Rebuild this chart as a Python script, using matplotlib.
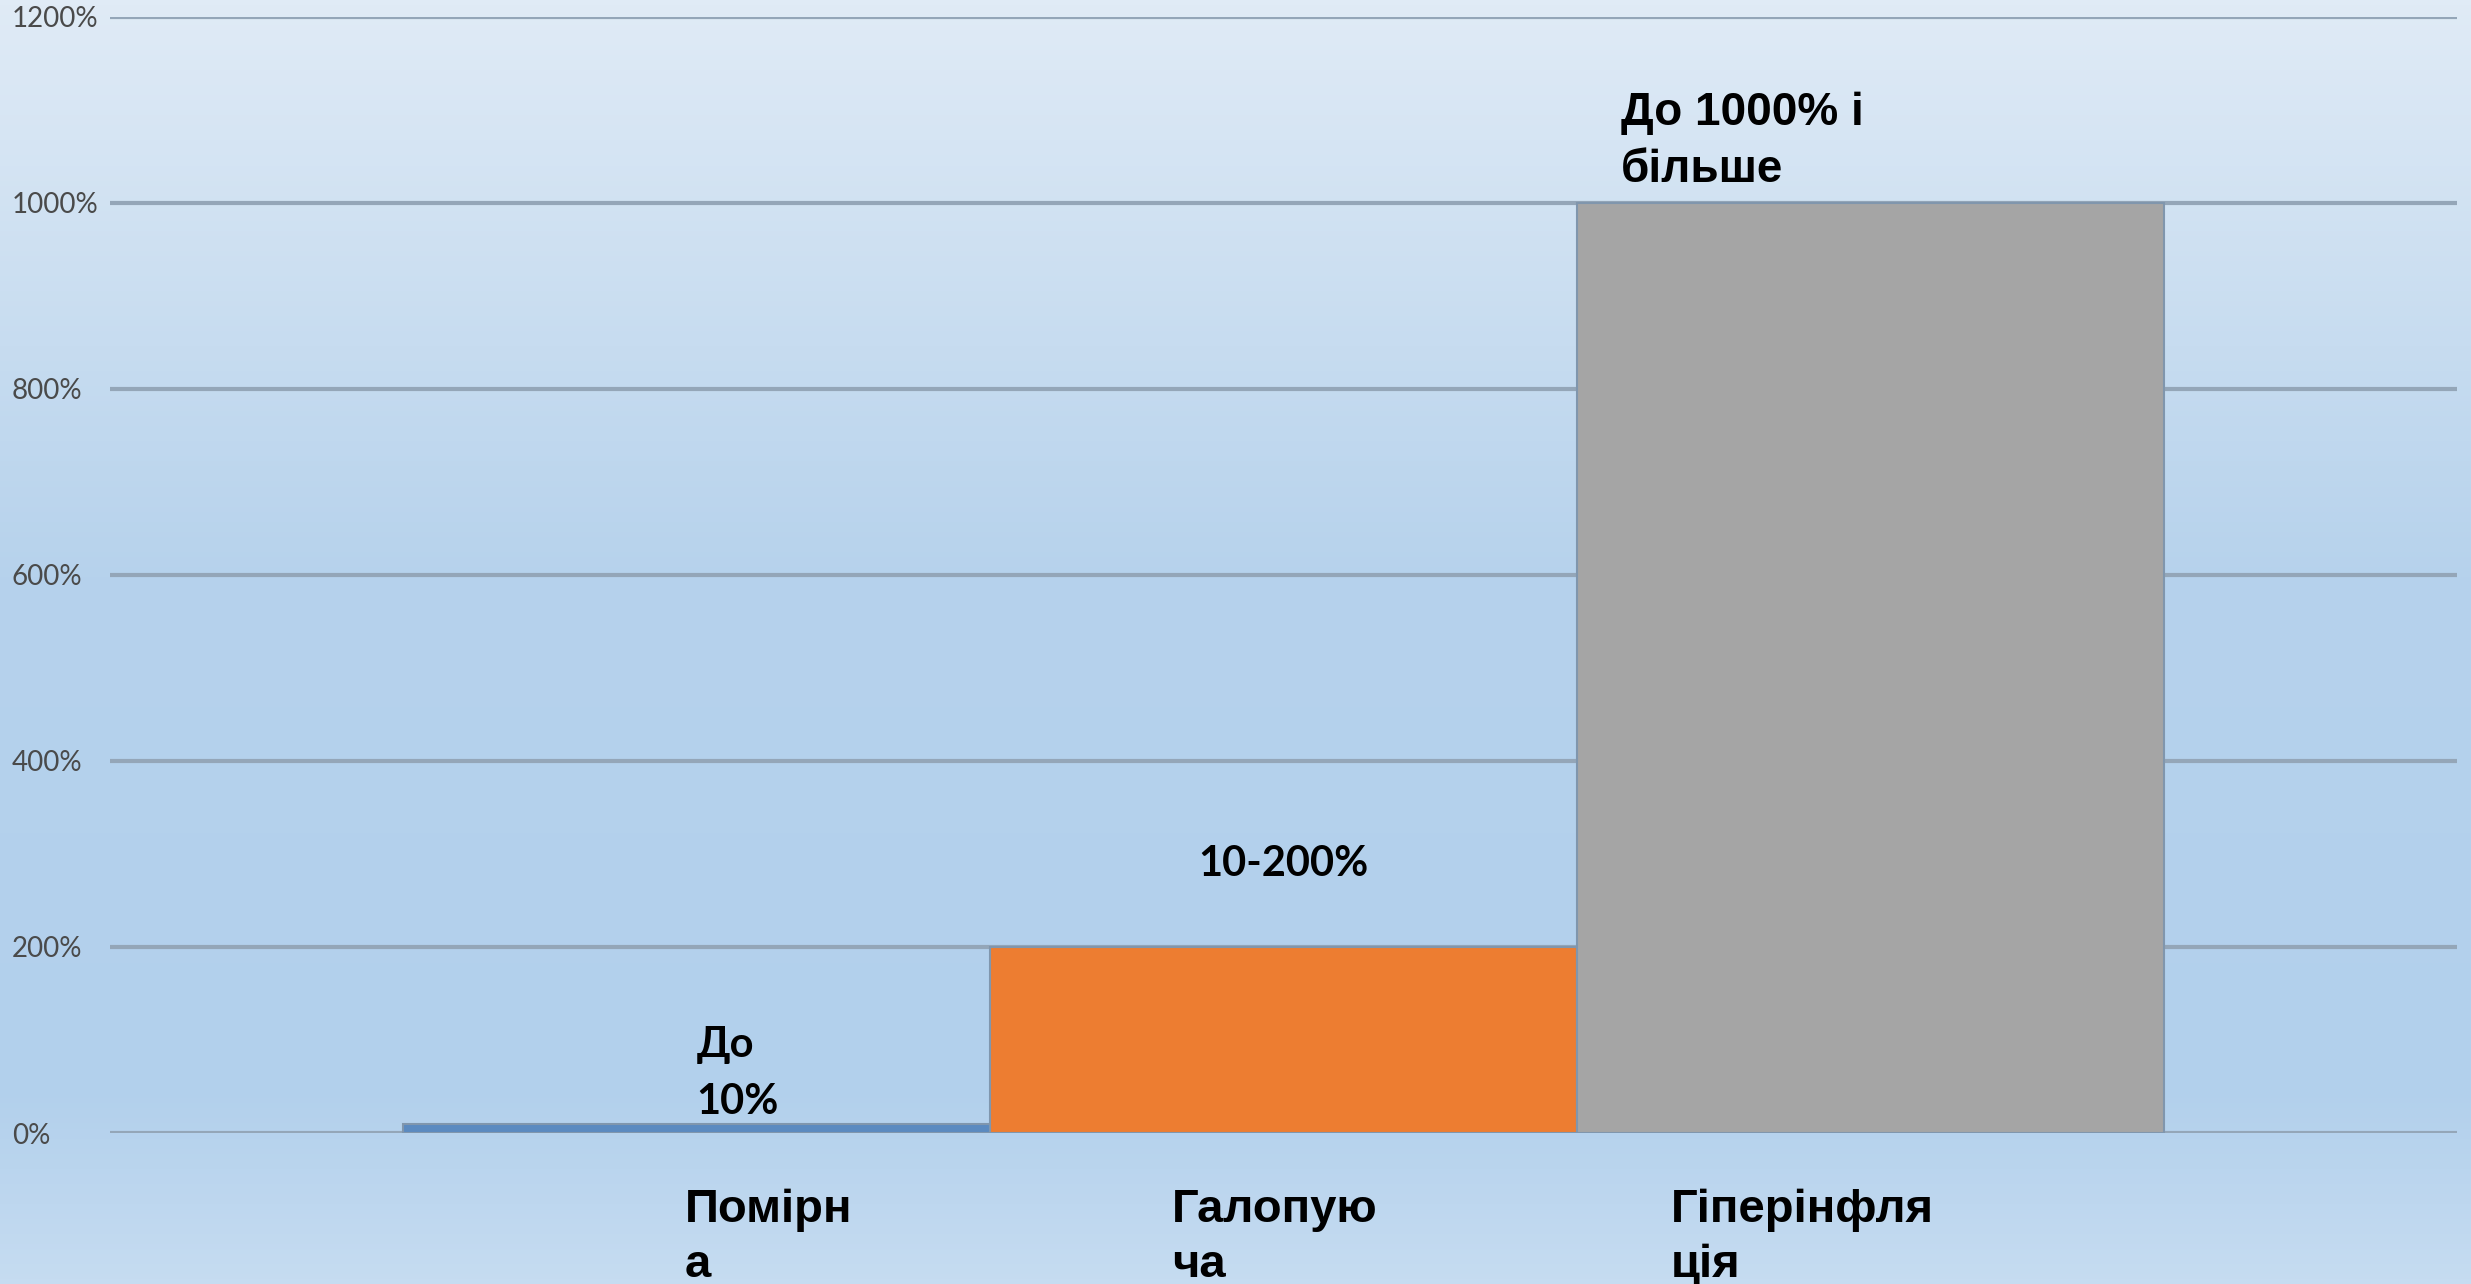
import matplotlib.pyplot as plt
from matplotlib.colors import LinearSegmentedColormap
import numpy as np

# inflation types and their rates (%)
categories = ["Помірн\nа", "Галопую\nча", "Гіперінфля\nція"]
values = [10, 200, 1000]
value_labels = ["До\n10%", "10-200%", "До 1000% і\nбільше"]
bar_colors = ["#5b8ac0", "#ed7d31", "#a5a5a5"]
y_ticks = [0, 200, 400, 600, 800, 1000, 1200]

fig = plt.figure(figsize=[24.71, 12.84], dpi=100)

# soft blue gradient behind everything
bg = fig.add_axes([0, 0, 1, 1], zorder=-1)
cmap = LinearSegmentedColormap.from_list("bg", [
    (0.0, "#e0ebf6"), (0.45, "#b6d2ec"), (0.85, "#b2d0ec"), (1.0, "#c6dcf1")])
grad = np.linspace(0, 1, 256).reshape(-1, 1)
bg.imshow(grad, aspect="auto", cmap=cmap, extent=[0, 1, 0, 1], origin="upper")
bg.axis("off")

ax = fig.add_axes([0.0445, 0.1176, 0.9498, 0.8692])
ax.patch.set_alpha(0)
x = np.arange(len(values))
ax.bar(x, values, width=1.0, color=bar_colors, edgecolor="#8096ad",
       linewidth=1.5, zorder=2)

ax.set_xlim(-1.0, 3.0)
ax.set_ylim(0, 1200)
ax.set_yticks(y_ticks)
ax.set_yticklabels([f"{v}%" for v in y_ticks], family=["Lato", "DejaVu Sans"],
                   fontsize=20, color="#4a4a4a")
for lbl in ax.get_yticklabels():
    lbl.set_horizontalalignment("left")
ax.tick_params(axis="y", length=0, pad=70.6)
ax.set_xticks([])
ax.grid(axis="y", color="#94a6b8", linewidth=3.0)
ax.set_axisbelow(True)
for s in ax.spines.values():
    s.set_visible(False)

# value labels placed by hand like in the original slide
lab_x = [0.0, 1.0, 1.575]
lab_y = [115, 310, 1120]
lab_ha = ["left", "center", "left"]
lab_font = [["Lato", "DejaVu Sans"], ["Lato", "DejaVu Sans"],
            ["Liberation Sans", "DejaVu Sans"]]
lab_size = [30, 30, 33]
lab_spacing = [1.6, 1.2, 1.36]
for i in range(len(values)):
    ax.text(lab_x[i], lab_y[i], value_labels[i], ha=lab_ha[i], va="top",
            family=lab_font[i], fontsize=lab_size[i], fontweight="bold",
            color="black", linespacing=lab_spacing[i])

# category names under the axis
cat_x = [-0.021, 0.81, 1.66]
for i, name in enumerate(categories):
    ax.text(cat_x[i], -0.049, name, transform=ax.get_xaxis_transform(),
            ha="left", va="top", family=["Liberation Sans", "DejaVu Sans"],
            fontsize=34, fontweight="bold", color="black", linespacing=1.33)

fig.savefig("out.png", dpi=100)
